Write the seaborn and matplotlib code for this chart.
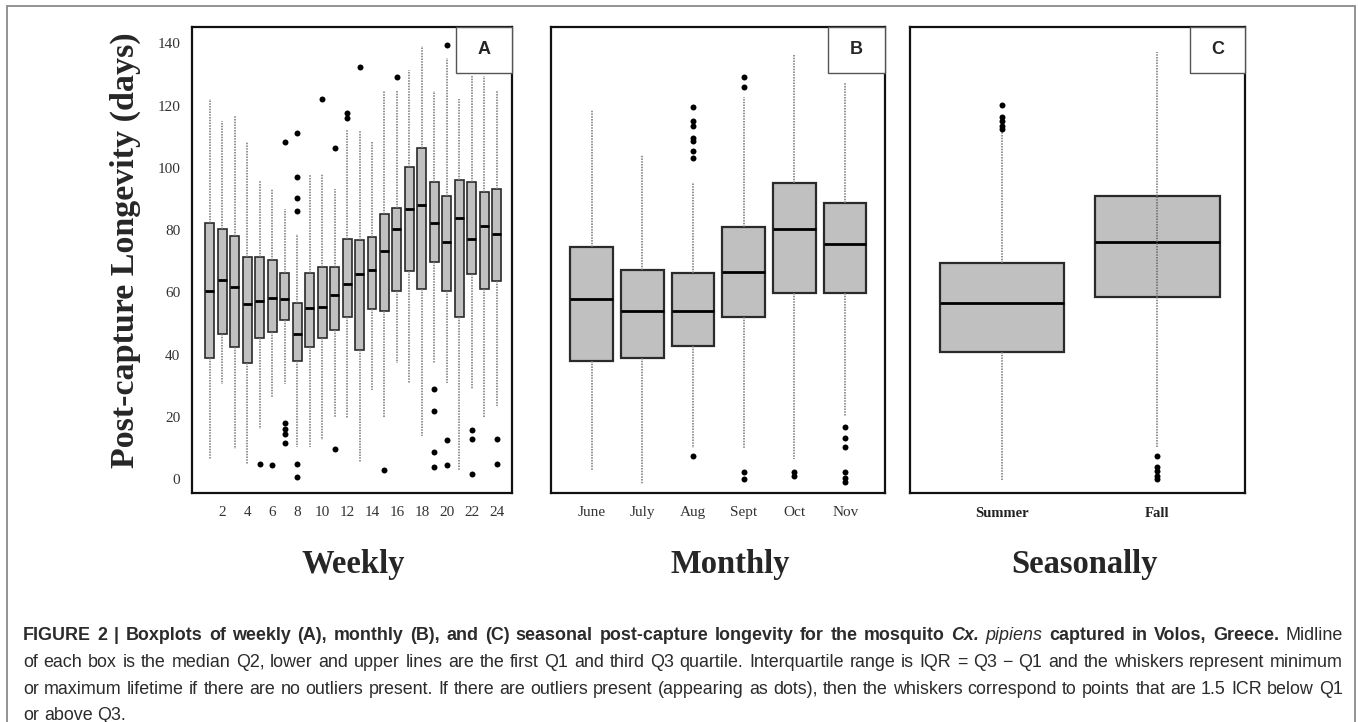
import matplotlib
matplotlib.use('Agg')
import matplotlib.pyplot as plt
from matplotlib.patches import Rectangle
from matplotlib.transforms import IdentityTransform
import seaborn as sns
import pandas as pd

# Weekly (panel A): five-number summaries
semanas = [str(s) for s in range(1, 25)]
sem_min = [6.4, 30.5, 9.7, 4.8, 16.3, 26.0, 30.6, 10.3, 10.5, 12.7, 19.8, 19.8,
           5.7, 28.7, 19.6, 37.3, 30.9, 13.9, 37.3, 30.9, 3.0, 28.9, 19.6, 23.4]
sem_q1 = [38.9, 46.5, 42.6, 37.3, 45.5, 47.2, 51.0, 38.0, 42.6, 45.5, 48.0, 52.1,
          41.6, 54.6, 53.9, 60.3, 67.0, 61.2, 69.6, 60.3, 52.1, 65.9, 61.2, 63.8]
sem_med = [60.5, 64.0, 61.6, 56.2, 57.1, 58.2, 57.9, 46.5, 54.9, 55.3, 59.1, 62.7,
           65.9, 67.2, 73.3, 80.3, 86.7, 88.1, 82.4, 76.1, 83.8, 77.3, 81.2, 78.7]
sem_q3 = [82.4, 80.5, 78.1, 71.3, 71.3, 70.5, 66.1, 56.5, 66.1, 68.1, 68.1, 77.0,
          76.8, 77.9, 85.2, 87.1, 100.1, 106.3, 95.3, 90.8, 96.1, 95.6, 92.2, 93.2]
sem_max = [122.2, 114.9, 116.8, 108.2, 96.0, 93.2, 86.8, 78.7, 98.1, 98.1, 93.2, 112.2,
           112.2, 108.4, 124.8, 124.8, 131.5, 139.0, 124.8, 135.2, 122.2, 129.5, 129.5, 124.8]
sem_out_x = ['5', '6', '7', '7', '7', '7', '7', '8', '8', '8', '8', '8', '8',
             '10', '11', '11', '12', '12', '13', '15', '16',
             '19', '19', '19', '19', '20', '20', '20', '22', '22', '22', '24', '24']
sem_out_y = [5.0, 4.6, 108.4, 18.0, 16.1, 14.6, 11.8, 111.1, 97.2, 90.3, 86.2, 4.8, 0.7,
             122.1, 106.4, 9.7, 117.6, 116.0, 132.3, 3.0, 129.3,
             28.9, 22.0, 8.7, 3.9, 139.3, 12.7, 4.6, 15.9, 12.9, 1.7, 12.9, 4.8]

# Monthly (panel B)
meses = ['June', 'July', 'Aug', 'Sept', 'Oct', 'Nov']
mes_min = [3.1, -1.5, 9.9, 9.9, 6.5, 20.3]
mes_q1 = [37.9, 39.1, 42.8, 52.0, 59.9, 59.9]
mes_med = [57.8, 54.1, 54.1, 66.5, 80.2, 75.6]
mes_q3 = [74.6, 67.2, 66.3, 81.0, 95.2, 88.8]
mes_max = [118.5, 104.1, 95.1, 122.7, 136.5, 127.3]
mes_out_x = ['Aug'] * 8 + ['Sept'] * 4 + ['Oct'] * 2 + ['Nov'] * 6
mes_out_y = [119.4, 115.1, 113.3, 109.5, 108.5, 105.3, 103.2, 7.4,
             129.2, 126.1, 2.3, 0.1,
             2.4, 1.1,
             16.8, 13.1, 10.3, 2.4, 0.3, -1.0]

# Seasonal (panel C)
estacoes = ['Summer', 'Fall']
est_min = [-0.4, 10.3]
est_q1 = [40.8, 58.5]
est_med = [56.5, 76.2]
est_q3 = [69.3, 91.0]
est_max = [111.5, 137.1]
est_out_x = ['Summer'] * 5 + ['Fall'] * 5
est_out_y = [120.2, 116.4, 115.1, 113.5, 112.6, 7.5, 4.0, 2.8, 1.1, 0.0]

LINHAS_LEGENDA = [
    [("FIGURE 2 | Boxplots of weekly (A), monthly (B), and (C) seasonal post-capture longevity for the mosquito", 'bold', 'normal'),
     ("Cx.", 'bold', 'italic'), ("pipiens", 'normal', 'italic'),
     ("captured in Volos, Greece.", 'bold', 'normal'), ("Midline", 'normal', 'normal')],
    [("of each box is the median Q2, lower and upper lines are the first Q1 and third Q3 quartile. "
      "Interquartile range is IQR = Q3 \u2212 Q1 and the whiskers represent minimum", 'normal', 'normal')],
    [("or maximum lifetime if there are no outliers present. If there are outliers present "
      "(appearing as dots), then the whiskers correspond to points that are 1.5 ICR below Q1", 'normal', 'normal')],
    [("or above Q3.", 'normal', 'normal')],
]


def tabela(grupos, mins, q1s, meds, q3s, maxs):
    """Monta o dataframe longo com os cinco números de cada grupo."""
    linhas = []
    for g, a, b, c, d, e in zip(grupos, mins, q1s, meds, q3s, maxs):
        for v in (a, b, c, d, e):
            linhas.append({'grupo': g, 'dias': v})
    return pd.DataFrame(linhas)


def caixas(ax, df, ordem, out_x, out_y, largura, lw_caixa):
    sns.boxplot(data=df, x='grupo', y='dias', order=ordem, whis=(0, 100),
                width=largura, color='#c0c0c0', saturation=1, linecolor='#2a2a2a',
                linewidth=lw_caixa, capwidths=0, ax=ax,
                whiskerprops=dict(color='#777777', linestyle=(0, (1, 0.8)), linewidth=1.1),
                medianprops=dict(color='black', linewidth=2.0))
    sns.stripplot(x=out_x, y=out_y, order=ordem, jitter=False, color='black',
                  size=4.3, linewidth=0, ax=ax, zorder=4)


def moldura(ax, letra, x0):
    for s in ax.spines.values():
        s.set_linewidth(1.6)
        s.set_color('#111111')
    ax.set_ylim(-4.4, 145.3)
    ax.set_yticks(range(0, 141, 20))
    ax.add_patch(Rectangle((x0, 0.9007), 1 - x0, 0.0993, transform=ax.transAxes,
                           facecolor='white', edgecolor='#555555', linewidth=1.0,
                           zorder=6, clip_on=False))
    ax.text(x0 + (1 - x0) / 2, 0.9504, letra, transform=ax.transAxes, ha='center',
            va='center', fontsize=13, fontweight='bold', family='Liberation Sans', zorder=7)
    ax.set_ylabel('')
    ax.grid(False)


def legenda(fig, tam):
    """Legenda justificada, palavra por palavra, como no artigo."""
    r = fig.canvas.get_renderer()
    ys = [722 - 640, 722 - 667, 722 - 694, 722 - 720]
    x_ini, x_fim = 23, 1343
    for n, (linha, y) in enumerate(zip(LINHAS_LEGENDA, ys)):
        palavras = []
        for texto, peso, estilo in linha:
            for p in texto.split(' '):
                t = fig.text(0, y, p, transform=IdentityTransform(), fontsize=tam,
                             fontweight=peso, fontstyle=estilo, family='Liberation Sans',
                             color='#2b2b2b', ha='left', va='baseline')
                palavras.append((t, t.get_window_extent(renderer=r).width))
        total = sum(w for _, w in palavras)
        if n < len(LINHAS_LEGENDA) - 1:
            espaco = (x_fim - x_ini - total) / (len(palavras) - 1)
        else:
            espaco = tam * 0.38
        x = x_ini
        for t, w in palavras:
            t.set_x(x)
            x += w + espaco


def main():
    sns.set_style('white')
    plt.rcParams['font.family'] = ['Liberation Serif', 'DejaVu Serif']

    fig = plt.figure(figsize=(13.58, 7.22), dpi=100)
    W, H = 1358, 722
    fig.add_artist(Rectangle((7 / W, -0.02), 1348 / W, (716 / H) + 0.02,
                             transform=fig.transFigure, facecolor='none',
                             edgecolor='#8a8a8a', linewidth=1.3))

    base, alt = (H - 493) / H, 466.3 / H
    axA = fig.add_axes([192 / W, base, 320 / W, alt])
    axB = fig.add_axes([551 / W, base, 334 / W, alt])
    axC = fig.add_axes([910 / W, base, 335 / W, alt])

    # Painel A - semanal
    caixas(axA, tabela(semanas, sem_min, sem_q1, sem_med, sem_q3, sem_max),
           semanas, sem_out_x, sem_out_y, 0.72, 1.2)
    moldura(axA, 'A', 0.825)
    axA.set_xlim(-1.44, 24.23)
    axA.set_xticks(range(len(semanas)))
    axA.set_xticklabels([s if int(s) % 2 == 0 else '' for s in semanas])
    axA.tick_params(axis='y', length=7, width=1.5, pad=1.5, labelsize=11, labelcolor='#333333')
    axA.tick_params(axis='x', length=3.6, width=1.5, pad=6, labelsize=11, labelcolor='#333333')
    axA.set_ylabel('Post-capture Longevity (days)', fontsize=24.5, fontweight='bold')
    axA.yaxis.set_label_coords(-0.209, 0.521)
    axA.yaxis.label.set_va('center')
    axA.set_xlabel('Weekly', fontsize=23.5, fontweight='bold')
    axA.xaxis.set_label_coords(0.503, -0.1544)
    axA.xaxis.label.set_va('center')

    # Painel B - mensal
    caixas(axB, tabela(meses, mes_min, mes_q1, mes_med, mes_q3, mes_max),
           meses, mes_out_x, mes_out_y, 0.84, 1.6)
    moldura(axB, 'B', 0.829)
    axB.set_xlim(-0.80, 5.785)
    axB.set_xticks(range(len(meses)))
    axB.set_xticklabels(meses)
    axB.tick_params(axis='y', length=8, width=1.5, labelleft=False)
    axB.tick_params(axis='x', length=3.6, width=1.5, pad=5.5, labelsize=11, labelcolor='#333333')
    axB.set_xlabel('Monthly', fontsize=23.5, fontweight='bold')
    axB.xaxis.set_label_coords(0.536, -0.1544)
    axB.xaxis.label.set_va('center')

    # Painel C - sazonal
    caixas(axC, tabela(estacoes, est_min, est_q1, est_med, est_q3, est_max),
           estacoes, est_out_x, est_out_y, 0.80, 1.6)
    # no original o bigode do outono aparece atravessando a caixa
    axC.vlines(1, est_q1[1], est_q3[1], colors='#666666', linestyles=(0, (1, 0.8)),
               linewidth=1.1, zorder=3)
    moldura(axC, 'C', 0.836)
    axC.set_xlim(-0.59, 1.563)
    axC.set_xticks(range(len(estacoes)))
    axC.set_xticklabels(estacoes, fontweight='bold')
    axC.tick_params(axis='y', length=8, width=1.5, labelleft=False)
    axC.tick_params(axis='x', length=0, pad=10, labelsize=10.5, labelcolor='#222222')
    axC.set_xlabel('Seasonally', fontsize=23.5, fontweight='bold')
    axC.xaxis.set_label_coords(0.522, -0.1544)
    axC.xaxis.label.set_va('center')

    legenda(fig, 12.9)
    fig.savefig('out.png', dpi=100)
    plt.close(fig)


if __name__ == "__main__":
    main()
